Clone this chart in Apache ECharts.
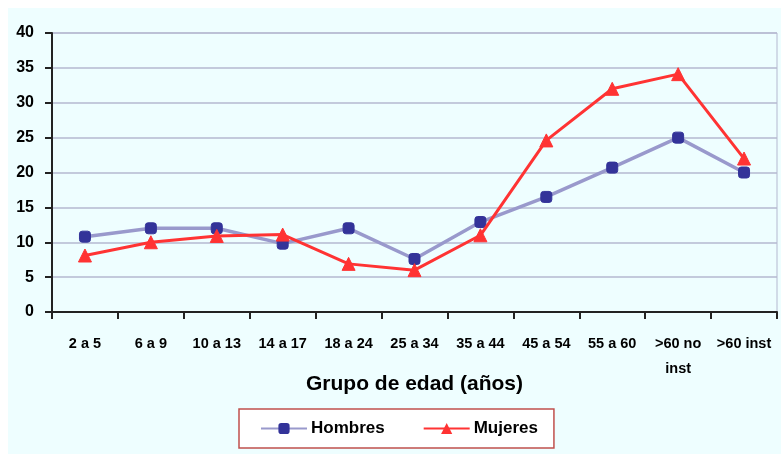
<!DOCTYPE html>
<html>
<head>
<meta charset="utf-8">
<script src="https://cdn.jsdelivr.net/npm/echarts@6/dist/echarts.min.js"></script>
<style>html,body{margin:0;padding:0;background:#fff;}#c{width:781px;height:454px;}</style>
</head>
<body>
<div id="c"></div>
<script>
const categories = ['2 a 5','6 a 9','10 a 13','14 a 17','18 a 24','25 a 34','35 a 44','45 a 54','55 a 60','>60 no inst','>60 inst'];
const hombres = [10.8, 12.0, 12.0, 9.8, 12.0, 7.6, 12.9, 16.5, 20.7, 25.0, 20.0];
const mujeres = [8.1, 10.0, 10.9, 11.1, 6.9, 6.0, 11.0, 24.6, 32.0, 34.1, 22.0];
const yTicks = {min: 0, max: 40, interval: 5};
const axisTitle = 'Grupo de edad (años)';

const font = "'Liberation Sans', Arial, sans-serif";
const chart = echarts.init(document.getElementById('c'), null, {renderer: 'canvas'});
chart.setOption({
  animation: false,
  backgroundColor: '#ffffff',
  graphic: [{
    type: 'rect', z: -10, silent: true,
    shape: {x: 8, y: 8, width: 773, height: 446},
    style: {fill: '#EEFEFF'}
  }],
  grid: {left: 52, top: 33, right: 4, bottom: 142, show: true, borderColor: '#B4B8D0', borderWidth: 1, backgroundColor: 'transparent'},
  xAxis: {
    type: 'category', data: categories, boundaryGap: true,
    name: axisTitle, nameLocation: 'middle', nameGap: 62, nameMoveOverlap: false,
    nameTextStyle: {fontFamily: font, fontWeight: 'bold', fontSize: 21, color: '#000'},
    axisLine: {lineStyle: {color: '#222', width: 2}},
    axisTick: {show: true, length: 7, lineStyle: {color: '#222', width: 2}},
    axisLabel: {
      fontFamily: font, fontWeight: 'bold', fontSize: 14.5, color: '#000', margin: 19, lineHeight: 25,
      interval: 0,
      formatter: v => v.replace(' no ', ' no\n')
    },
    splitLine: {show: false}
  },
  yAxis: {
    type: 'value', min: yTicks.min, max: yTicks.max, interval: yTicks.interval,
    axisLine: {show: true, lineStyle: {color: '#222', width: 2}},
    axisTick: {show: true, length: 7, lineStyle: {color: '#222', width: 2}},
    axisLabel: {fontFamily: font, fontWeight: 'bold', fontSize: 16, color: '#000', margin: 18},
    splitLine: {lineStyle: {color: '#B4B8D0', width: 1.5}}
  },
  legend: {
    left: 239, top: 409,
    data: ['Hombres', 'Mujeres'],
    backgroundColor: '#ffffff',
    borderColor: '#C0504D', borderWidth: 1.5, borderRadius: 0,
    padding: [11, 16, 11, 21],
    itemWidth: 46, itemHeight: 14, itemGap: 38,
    textStyle: {fontFamily: font, fontWeight: 'bold', fontSize: 17, color: '#000', padding: [0, 0, 0, -1]}
  },
  series: [
    {
      name: 'Hombres', type: 'line', data: hombres,
      symbol: 'roundRect', symbolSize: 11,
      lineStyle: {color: '#9999CC', width: 3.5},
      itemStyle: {color: '#333399', borderColor: '#333399'},
      z: 3
    },
    {
      name: 'Mujeres', type: 'line', data: mujeres,
      symbol: 'triangle', symbolSize: 13,
      lineStyle: {color: '#FF3333', width: 3},
      itemStyle: {color: '#FF3333', borderColor: '#FF3333'},
      z: 4
    }
  ]
});
</script>
</body>
</html>
